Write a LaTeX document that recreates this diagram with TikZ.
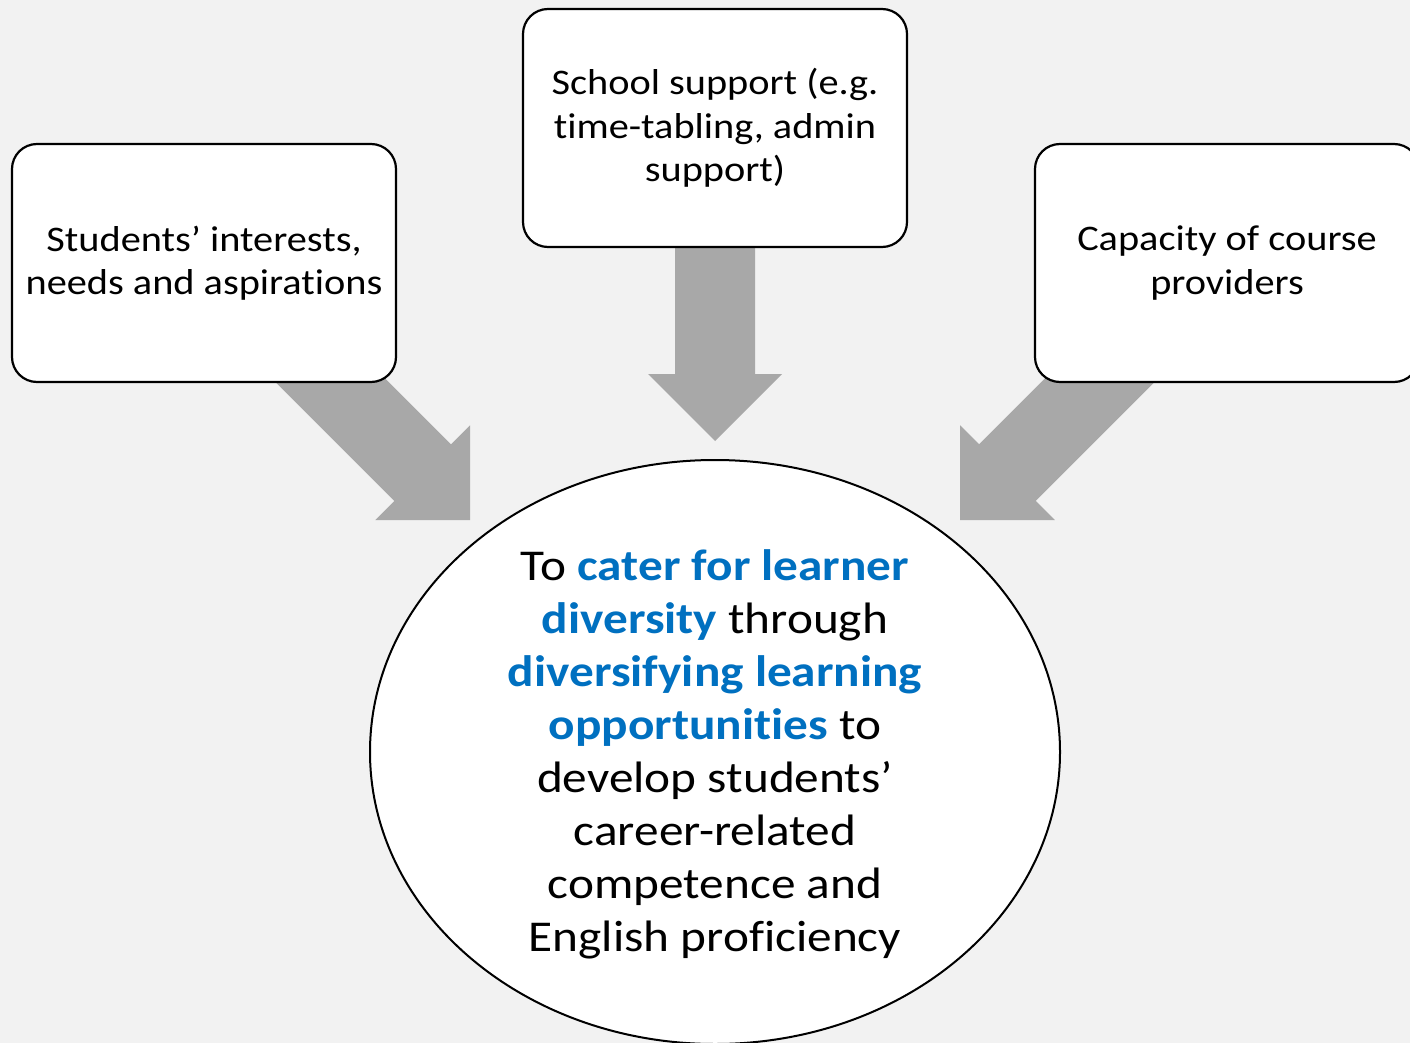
\documentclass[tikz,border=0pt]{standalone}
\usepackage{fontspec}
\setmainfont{Carlito}[FakeStretch=1.12, Ligatures={TeX,NoCommon}]
\usetikzlibrary{shapes.geometric}
\definecolor{bggray}{HTML}{F2F2F2}
\definecolor{arrowgray}{HTML}{A8A8A8}
\definecolor{hiblue}{HTML}{0070C0}
\newcommand\hl[1]{\textbf{\textcolor{hiblue}{#1}}}
\newcommand\blockarrow[3]{\fill[arrowgray, shift={(#1)}, rotate=#2] (0,0) -- (-67,67) -- (-67,40) -- (-#3,40) -- (-#3,-40) -- (-67,-40) -- (-67,-67) -- cycle;}
\tikzset{
  factorbox/.style={draw=black, line width=2.2pt, fill=white, rounded corners=25pt,
    minimum width=384pt, minimum height=238pt, inner sep=0pt, align=center,
    font=\fontsize{36}{43.5}\selectfont},
  goalshape/.style={draw=black, line width=2pt, fill=white, ellipse, minimum width=690pt,
    minimum height=584pt, inner sep=0pt},
  goaltext/.style={align=center, inner sep=0pt, font=\fontsize{44}{53}\selectfont}
}
\begin{document}
\begin{tikzpicture}[x=1pt,y=1pt]
\useasboundingbox (0,0) rectangle (1410,-1043);
\clip (0,0) rectangle (1410,-1043);
\fill[bggray] (0,0) rectangle (1410,-1043);
% arrow tips
\coordinate (ltip) at (470,-520);
\coordinate (mtip) at (715,-441);
\coordinate (rtip) at (960,-520);
\blockarrow{ltip}{-45}{280}
\blockarrow{mtip}{-90}{240}
\blockarrow{rtip}{-135}{280}
% factor boxes
\node[factorbox] (students) at (204,-263) {Students’ interests,\\needs and aspirations};
\node[factorbox] (school) at (715,-128) {School support (e.g.\\time-tabling, admin\\support)};
\node[factorbox] (capacity) at (1227,-263) {Capacity of course\\providers};
% goal
\node[goalshape] (goal) at (715,-752) {};
\node[goaltext] (goaltxt) at ([yshift=-2pt]goal.center) {To \hl{cater for learner}\\\hl{diversity} through\\\hl{diversifying learning}\\\hl{opportunities} to\\develop students’\\career-related\\competence and\\English proficiency};
\end{tikzpicture}
\end{document}
